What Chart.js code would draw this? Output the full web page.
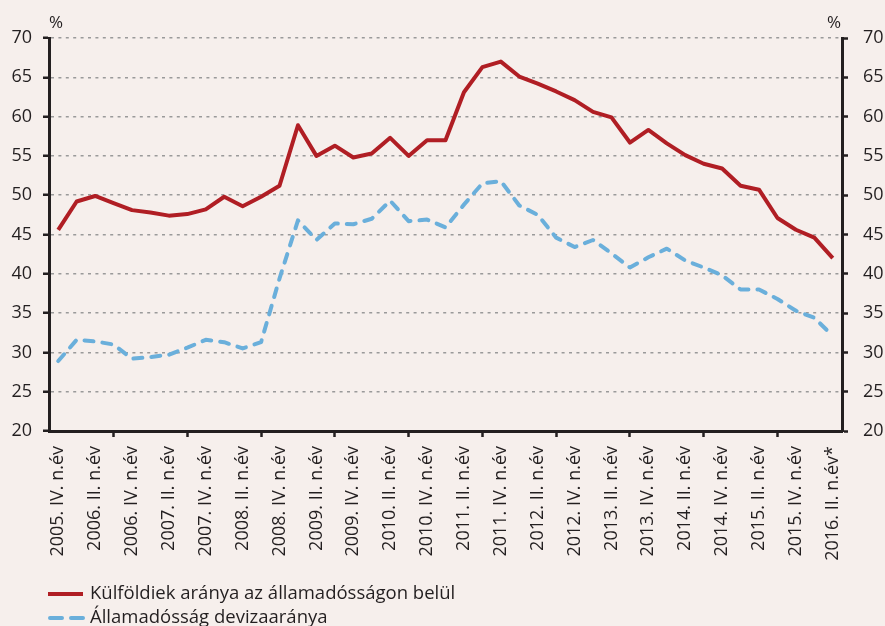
<!DOCTYPE html>
<html>
<head>
<meta charset="utf-8">
<script src="https://cdn.jsdelivr.net/npm/chart.js@4.4.1/dist/chart.umd.min.js"></script>
<style>
  html, body { margin: 0; padding: 0; background: #F6EFEC; }
  #wrap { width: 885px; height: 626px; position: relative; }
</style>
</head>
<body>
<div id="wrap"><canvas id="chart"></canvas></div>
<script>
// --- DATA ---
const quarters = [
  "2005. IV. n.év",
  "2006. I. n.év", "2006. II. n.év", "2006. III. n.év", "2006. IV. n.év",
  "2007. I. n.év", "2007. II. n.év", "2007. III. n.év", "2007. IV. n.év",
  "2008. I. n.év", "2008. II. n.év", "2008. III. n.év", "2008. IV. n.év",
  "2009. I. n.év", "2009. II. n.év", "2009. III. n.év", "2009. IV. n.év",
  "2010. I. n.év", "2010. II. n.év", "2010. III. n.év", "2010. IV. n.év",
  "2011. I. n.év", "2011. II. n.év", "2011. III. n.év", "2011. IV. n.év",
  "2012. I. n.év", "2012. II. n.év", "2012. III. n.év", "2012. IV. n.év",
  "2013. I. n.év", "2013. II. n.év", "2013. III. n.év", "2013. IV. n.év",
  "2014. I. n.év", "2014. II. n.év", "2014. III. n.év", "2014. IV. n.év",
  "2015. I. n.év", "2015. II. n.év", "2015. III. n.év", "2015. IV. n.év",
  "2016. I. n.év", "2016. II. n.év*"
];
const foreignShare = [45.6, 49.2, 49.9, 49.0, 48.1, 47.8, 47.4, 47.6, 48.2, 49.8, 48.6, 49.8, 51.2, 58.9, 55.0, 56.3, 54.8, 55.3, 57.3, 55.0, 57.0, 57.0, 63.1, 66.3, 67.0, 65.1, 64.2, 63.2, 62.1, 60.6, 59.9, 56.7, 58.3, 56.6, 55.1, 54.0, 53.4, 51.2, 50.7, 47.1, 45.6, 44.6, 42.0];
const fxShare = [28.9, 31.6, 31.4, 31.0, 29.2, 29.4, 29.7, 30.6, 31.6, 31.3, 30.5, 31.3, 39.4, 46.8, 44.3, 46.4, 46.3, 47.0, 49.3, 46.7, 46.9, 45.9, 48.8, 51.5, 51.8, 48.7, 47.5, 44.6, 43.4, 44.3, 42.6, 40.8, 42.1, 43.2, 41.7, 40.8, 39.8, 38.0, 38.0, 36.8, 35.3, 34.4, 32.1];
const seriesNames = ["Külföldiek aránya az államadósságon belül", "Államadósság devizaaránya"];
const yMin = 20, yMax = 70, yStep = 5;
const unitLabel = "%";

const RED = "#B01E24";
const BLUE = "#6AAFDB";
const INK = "#231F20";
const FONT = "'Open Sans', 'Noto Sans', sans-serif";

// --- EXTRA TEXT: % labels + legend ---
const decorPlugin = {
    id: 'decor',
    afterDraw(chart) {
        const { ctx, chartArea: a } = chart;
        ctx.save();
        ctx.fillStyle = INK;
        ctx.font = `17px ${FONT}`;
        ctx.textAlign = 'center';
        ctx.textBaseline = 'middle';
        ctx.fillText(unitLabel, a.left + 7, a.top - 15);
        ctx.fillText(unitLabel, a.right - 8, a.top - 15);

        // legend
        const sets = chart.data.datasets;
        const rows = [chart.height - 32, chart.height - 8];
        ctx.font = `18.5px ${FONT}`;
        ctx.textAlign = 'left';
        sets.forEach((ds, i) => {
            const y = rows[i];
            ctx.beginPath();
            ctx.lineWidth = 4;
            ctx.strokeStyle = ds.borderColor;
            ctx.lineCap = ds.borderDash ? 'round' : 'butt';
            ctx.setLineDash(ds.borderDash ? [12, 9] : []);
            ctx.moveTo(ds.borderDash ? 50 : 48, y);
            ctx.lineTo(83, y);
            ctx.stroke();
            ctx.setLineDash([]);
            ctx.fillStyle = INK;
            ctx.fillText(ds.label, 90, y);
        });
        ctx.restore();
    }
};

new Chart(document.getElementById('chart'), {
    type: 'line',
    data: {
        labels: quarters,
        datasets: [
            { label: seriesNames[0], data: foreignShare, borderColor: RED, borderWidth: 4, pointRadius: 0, tension: 0, borderJoinStyle: 'round' },
            { label: seriesNames[1], data: fxShare, borderColor: BLUE, borderWidth: 4, pointRadius: 0, tension: 0, borderDash: [9, 9], borderCapStyle: 'round', borderJoinStyle: 'round' }
        ]
    },
    options: {
        responsive: true,
        maintainAspectRatio: false,
        animation: false,
        layout: { padding: { top: 38, bottom: 64, left: 0, right: 0 } },
        plugins: { legend: { display: false }, tooltip: { enabled: false } },
        scales: {
            x: {
                offset: true,
                grid: {
                    offset: true, drawOnChartArea: false, drawTicks: true, tickLength: 6, tickWidth: 2.5,
                    tickColor: c => (c.index % 2 === 0 ? INK : 'transparent')
                },
                border: { display: true, color: INK, width: 3 },
                ticks: {
                    autoSkip: false, maxRotation: 90, minRotation: 90, padding: 9,
                    color: INK, font: { family: FONT, size: 18 },
                    callback: (v, i) => (i % 2 === 0 ? quarters[i] : null)
                },
                afterFit: s => { s.height = 131; }
            },
            y: {
                position: 'left', min: yMin, max: yMax,
                ticks: { stepSize: yStep, color: INK, padding: 11, font: { family: FONT, size: 18 } },
                grid: {
                    color: c => (c.tick && c.tick.value === yMin ? 'transparent' : '#9A9A9A'),
                    lineWidth: 1.5, tickColor: INK, tickLength: 6, tickWidth: 2.5
                },
                border: { display: true, color: INK, width: 3, dash: [3, 4.4] },
                afterFit: s => { s.width = 49; }
            },
            y2: {
                position: 'right', min: yMin, max: yMax,
                ticks: { stepSize: yStep, color: INK, padding: 15, font: { family: FONT, size: 18 } },
                grid: { drawOnChartArea: false, tickColor: INK, tickLength: 6, tickWidth: 2.5 },
                border: { display: true, color: INK, width: 3 },
                afterFit: s => { s.width = 43; }
            }
        }
    },
    plugins: [decorPlugin]
});
</script>
</body>
</html>
